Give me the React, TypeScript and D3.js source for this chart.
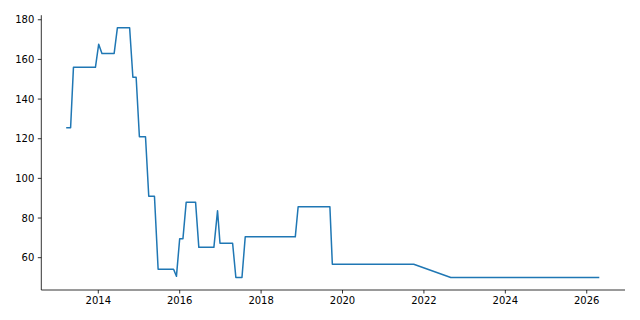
import React from "react";
import * as d3 from "d3";

const years: number[] = [
  2013.23, 2013.32, 2013.39, 2013.93, 2014.01, 2014.09, 2014.39, 2014.47, 2014.77, 2014.85,
  2014.93, 2015.01, 2015.16, 2015.24, 2015.38, 2015.47, 2015.85, 2015.92, 2016.0, 2016.08,
  2016.16, 2016.39, 2016.47, 2016.84, 2016.93, 2016.99, 2017.3, 2017.38, 2017.53, 2017.61,
  2018.84, 2018.91, 2019.69, 2019.75, 2021.75, 2022.66, 2026.29,
];
const values: number[] = [
  125.5, 125.5, 156, 156, 167.7, 163, 163, 176, 176, 151,
  151, 121, 121, 91, 91, 54.2, 54.2, 50.6, 69.6, 69.6,
  88, 88, 65.2, 65.2, 83.7, 67.3, 67.3, 50, 50, 70.5,
  70.5, 85.7, 85.7, 56.7, 56.7, 50, 50,
];
const xTicks: number[] = [2014, 2016, 2018, 2020, 2022, 2024, 2026];
const yTicks: number[] = [60, 80, 100, 120, 140, 160, 180];

export default function App() {
  const W = 640;
  const H = 320;
  const x = d3.scaleLinear().domain([2012.6, 2026.94]).range([41.3, 625]);
  const y = d3.scaleLinear().domain([43.7, 182.3]).range([290, 15.2]);
  const pts = years.map((t, i) => [t, values[i]] as [number, number]);
  const line = d3
    .line<[number, number]>()
    .x((d) => x(d[0]))
    .y((d) => y(d[1]));
  const font = "DejaVu Sans, sans-serif";
  const left = 41.3;
  const bottom = 290;
  return (
    <svg
      width={W}
      height={H}
      style={{ position: "fixed", left: 0, top: 0, background: "#fff" }}
      fontFamily={font}
    >
      <rect x={0} y={0} width={W} height={H} fill="#fff" />
      <path
        d={line(pts) ?? ""}
        fill="none"
        stroke="#1f77b4"
        strokeWidth={1.5}
        strokeLinejoin="round"
        strokeLinecap="square"
      />
      <line x1={left} x2={left} y1={15.2} y2={bottom} stroke="#000" strokeWidth={0.8} />
      <line x1={left} x2={625} y1={bottom} y2={bottom} stroke="#000" strokeWidth={0.8} />
      {yTicks.map((t) => (
        <g key={"y" + t}>
          <line x1={left - 3.5} x2={left} y1={y(t)} y2={y(t)} stroke="#000" strokeWidth={0.8} />
          <text
            x={left - 7}
            y={y(t)}
            textAnchor="end"
            dominantBaseline="central"
            fontSize={10}
            fill="#000"
          >
            {t}
          </text>
        </g>
      ))}
      {xTicks.map((t) => (
        <g key={"x" + t}>
          <line x1={x(t)} x2={x(t)} y1={bottom} y2={bottom + 3.5} stroke="#000" strokeWidth={0.8} />
          <text
            x={x(t)}
            y={bottom + 7}
            textAnchor="middle"
            dominantBaseline="hanging"
            fontSize={10}
            fill="#000"
          >
            {t}
          </text>
        </g>
      ))}
    </svg>
  );
}
